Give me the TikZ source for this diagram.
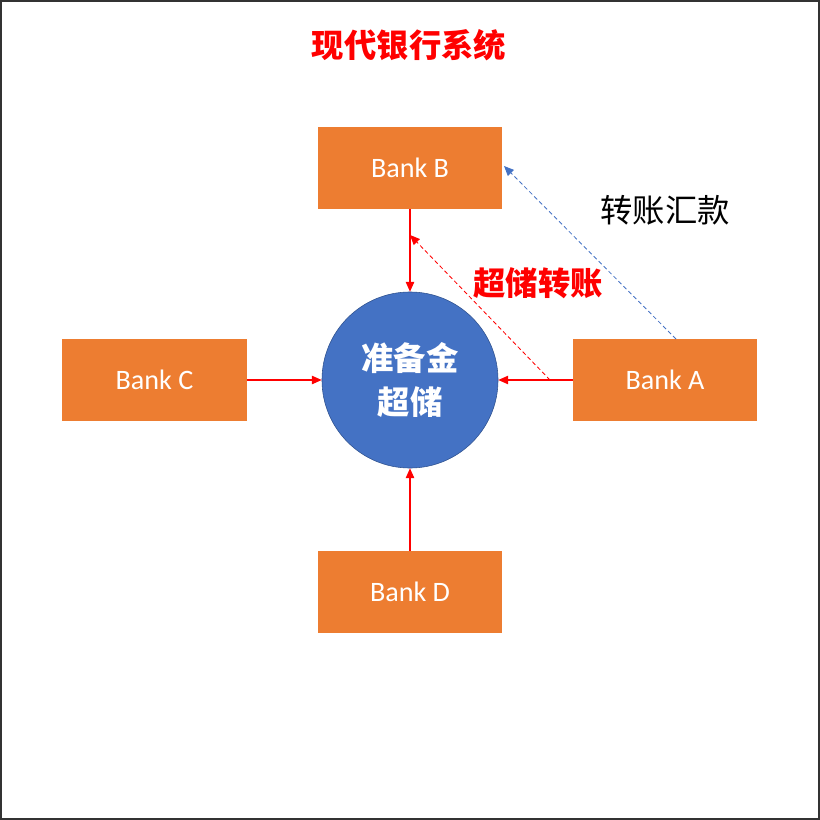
\documentclass[tikz,border=0pt]{standalone}
\usepackage{fontspec}
\setmainfont{Carlito}
\newfontfamily\cjk{Noto Sans CJK SC}
\usepackage{xcolor}
\usepackage{tikz}
\usetikzlibrary{positioning, arrows.meta}

\definecolor{bankorange}{HTML}{ED7D31}
\definecolor{poolblue}{HTML}{4472C4}
\definecolor{pooledge}{HTML}{2F528F}

\begin{document}
\begin{tikzpicture}[
        x=0.025cm, y=-0.025cm,
        % Define common styles for the nodes and text
        bank/.style={fill=bankorange, rectangle, minimum width=4.6cm, minimum height=2.05cm, inner sep=0pt, text=white, font=\fontsize{20}{23}\selectfont},
        pool/.style={circle, draw=pooledge, fill=poolblue, thin, minimum size=4.4cm, align=center, text=white, font=\cjk\bfseries\fontsize{23}{31}\selectfont},
        label/.style={font=\cjk\fontsize{23}{27}\selectfont},
        boldlabel/.style={font=\cjk\bfseries\fontsize{23}{27}\selectfont},
        arrow/.style={-{Triangle[length=7pt, width=6pt]}, red, line width=0.8pt},
        dasharrow/.style={-{Triangle[length=7pt, width=6pt]}, line width=0.6pt, dash pattern=on 3pt off 2pt}
    ]

        \useasboundingbox (0,0) rectangle (820,820);
        \draw[line width=1.5pt, black!80] (1,1) rectangle (819,819);

        % Define the nodes
        \node[boldlabel, red] (title) at (409,45) {现代银行系统};

        \node[pool] (reserve) at (410,380) {准备金\\超储};

        \node[bank] (bankB) at (410,168) {Bank B};
        \node[bank] (bankC) at (154.5,380) {Bank C};
        \node[bank] (bankA) at (665,380) {Bank A};
        \node[bank] (bankD) at (410,592) {Bank D};

        \node[boldlabel, red] (excess) at (538,283) {超储转账};
        \node[label] (transfer) at (665,210) {转账汇款};

        \coordinate (afrom) at (550,380);
        \coordinate (bto) at (410,235);
        \coordinate (atop) at (676,339);
        \coordinate (bside) at (504,166);

        % Draw the arrows
        \draw[arrow] (bankB) -- (reserve);
        \draw[arrow] (bankC) -- (reserve);
        \draw[arrow] (bankA) -- (reserve);
        \draw[arrow] (bankD) -- (reserve);

        \draw[dasharrow, red] (afrom) -- (bto);
        \draw[dasharrow, poolblue] (atop) -- (bside);

    \end{tikzpicture}
\end{document}
